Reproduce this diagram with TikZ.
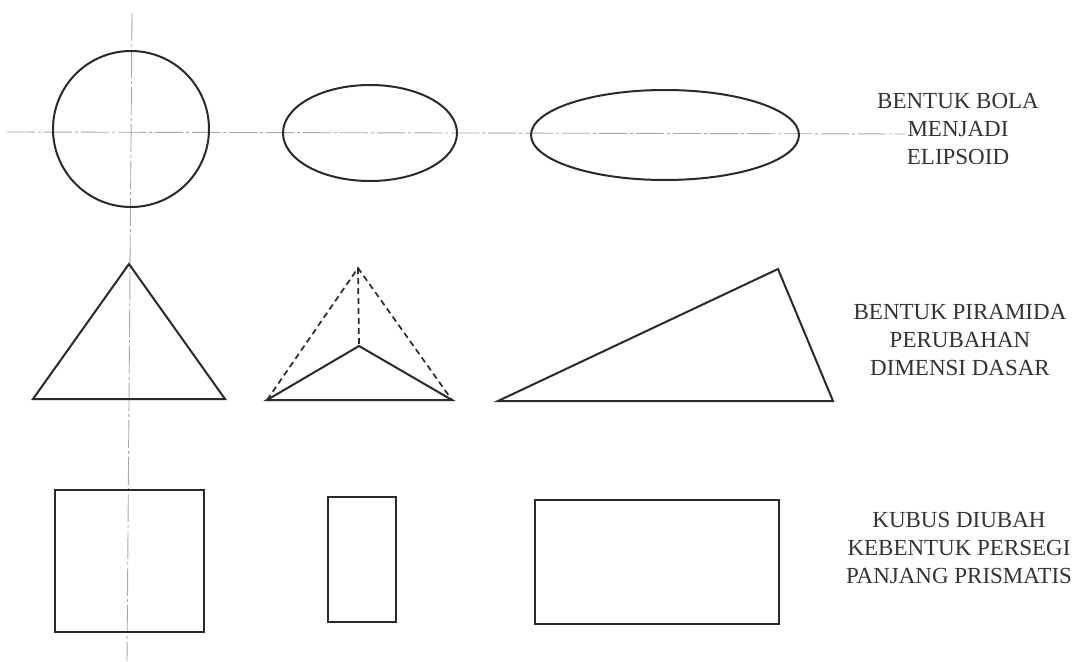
\documentclass[tikz,border=0pt]{standalone}
\usepackage{fontspec}
\setmainfont{Liberation Serif}
\definecolor{ink}{HTML}{2A2A2A}
\definecolor{txt}{HTML}{333333}
\definecolor{axis}{HTML}{A8A8A8}
\begin{document}
\begin{tikzpicture}[x=1pt,y=-1pt,
  outline/.style={draw=ink,line width=2pt,line join=miter},
  hidden/.style={draw=ink,line width=1.7pt,dash pattern=on 6pt off 4pt},
  centre/.style={draw=axis,line width=0.9pt,dash pattern=on 28pt off 3pt on 3pt off 3pt},
  caption/.style={text=txt,align=center,font=\fontsize{23}{28}\selectfont,inner sep=0pt}]
\useasboundingbox[fill=white] (0,0) rectangle (1083,661);
% centre lines
\coordinate (hL) at (7,132);
\coordinate (hR) at (905,134);
\coordinate (vT) at (132,13);
\coordinate (vB) at (127,661);
\draw[centre] (hL) -- (hR);
\draw[centre] (vT) -- (vB);
% row 1: sphere to ellipsoid
\draw[outline] (131,129) circle (78);
\draw[outline] (370,133) ellipse (87 and 48);
\draw[outline] (665,135) ellipse (134 and 45);
% row 2: pyramids
\coordinate (t1a) at (129,264);
\coordinate (t1b) at (33,399);
\coordinate (t1c) at (225,399);
\draw[outline] (t1a) -- (t1b) -- (t1c) -- cycle;
\coordinate (pA) at (358,268);
\coordinate (pI) at (359,346);
\coordinate (pL) at (267,400);
\coordinate (pR) at (452,400);
\draw[hidden] (pL) -- (pA) -- (pR);
\draw[hidden] (pA) -- (pI);
\draw[outline] (pL) -- (pI) -- (pR) -- cycle;
\coordinate (t3a) at (498,401);
\coordinate (t3b) at (778,269);
\coordinate (t3c) at (833,401);
\draw[outline] (t3a) -- (t3b) -- (t3c) -- cycle;
% row 3: cube to prism
\draw[outline] (55,490) rectangle (204,632);
\draw[outline] (328,497) rectangle (396,622);
\draw[outline] (535,500) rectangle (779,624);
% labels
\node[caption] (l1) at (958,129) {BENTUK BOLA\\MENJADI\\ELIPSOID};
\node[caption] (l2) at (960,340) {BENTUK PIRAMIDA\\PERUBAHAN\\DIMENSI DASAR};
\node[caption] (l3) at (959,548) {KUBUS DIUBAH\\KEBENTUK PERSEGI\\PANJANG PRISMATIS};
\end{tikzpicture}
\end{document}
